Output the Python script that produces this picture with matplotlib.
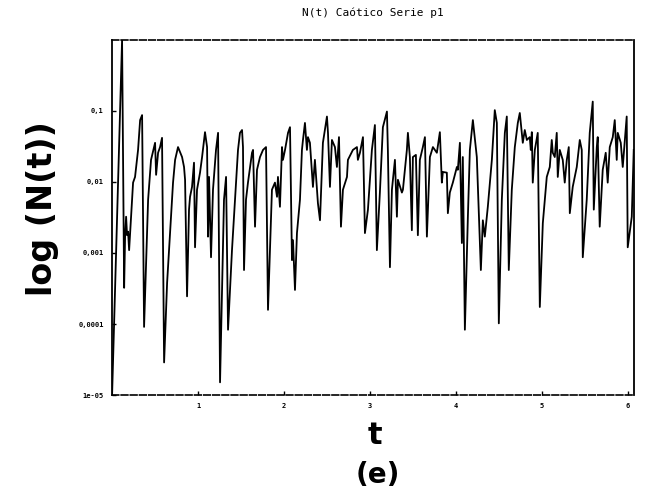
import numpy as np
import matplotlib
matplotlib.use('Agg')
import matplotlib.pyplot as plt
from matplotlib.ticker import FixedLocator, NullLocator

# tiempo
t = [0.000, 0.116, 0.140, 0.151, 0.163, 0.174, 0.186, 0.198, 0.221, 0.244,
     0.267, 0.302, 0.326, 0.349, 0.372, 0.395, 0.419, 0.453, 0.500, 0.512,
     0.535, 0.558, 0.581, 0.605, 0.640, 0.674, 0.709, 0.733, 0.767, 0.814,
     0.837, 0.849, 0.872, 0.895, 0.907, 0.930, 0.953, 0.965, 0.988, 1.023,
     1.047, 1.070, 1.081, 1.105, 1.116, 1.128, 1.151, 1.174, 1.209, 1.233,
     1.256, 1.279, 1.302, 1.326, 1.349, 1.395, 1.430, 1.465, 1.488, 1.512,
     1.523, 1.535, 1.558, 1.581, 1.628, 1.640, 1.663, 1.686, 1.721, 1.756,
     1.791, 1.814, 1.837, 1.860, 1.895, 1.919, 1.930, 1.953, 1.977, 1.988,
     2.012, 2.047, 2.070, 2.093, 2.105, 2.128, 2.151, 2.186, 2.209, 2.221,
     2.244, 2.267, 2.279, 2.302, 2.337, 2.360, 2.395, 2.419, 2.453, 2.500,
     2.512, 2.535, 2.558, 2.593, 2.616, 2.640, 2.663, 2.686, 2.733, 2.744,
     2.802, 2.849, 2.860, 2.884, 2.919, 2.942, 2.977, 3.023, 3.058, 3.081,
     3.116, 3.151, 3.198, 3.209, 3.233, 3.256, 3.291, 3.314, 3.326, 3.372,
     3.384, 3.430, 3.442, 3.465, 3.488, 3.500, 3.535, 3.558, 3.581, 3.616,
     3.640, 3.663, 3.698, 3.733, 3.779, 3.814, 3.837, 3.849, 3.895, 3.907,
     3.930, 3.965, 4.012, 4.023, 4.047, 4.070, 4.081, 4.105, 4.140, 4.163,
     4.198, 4.244, 4.267, 4.291, 4.314, 4.337, 4.372, 4.419, 4.453, 4.477,
     4.500, 4.535, 4.570, 4.593, 4.616, 4.651, 4.686, 4.721, 4.744, 4.779,
     4.802, 4.826, 4.860, 4.872, 4.884, 4.895, 4.919, 4.953, 4.977, 5.012,
     5.058, 5.093, 5.116, 5.128, 5.151, 5.174, 5.186, 5.209, 5.244, 5.267,
     5.291, 5.314, 5.326, 5.360, 5.407, 5.442, 5.465, 5.477, 5.523, 5.558,
     5.593, 5.605, 5.640, 5.651, 5.674, 5.709, 5.744, 5.767, 5.791, 5.826,
     5.849, 5.872, 5.884, 5.919, 5.942, 5.988, 6.000, 6.047, 6.070]

# log10 N(t)
logN = [-4.99, 0.00, -3.49, -2.77, -2.49, -2.75, -2.70, -2.96, -2.49, -2.01,
        -1.93, -1.55, -1.13, -1.06, -4.04, -3.17, -2.25, -1.69, -1.45, -1.90,
        -1.59, -1.51, -1.38, -4.54, -3.42, -2.72, -2.01, -1.69, -1.51, -1.65,
        -1.79, -1.97, -3.61, -2.39, -2.21, -2.07, -1.73, -2.92, -2.11, -1.87,
        -1.65, -1.41, -1.30, -1.51, -2.77, -1.93, -3.06, -2.11, -1.55, -1.31,
        -4.82, -3.52, -2.25, -1.93, -4.08, -2.96, -2.25, -1.55, -1.31, -1.27,
        -1.51, -3.24, -2.25, -2.01, -1.59, -1.55, -2.63, -1.83, -1.65, -1.55,
        -1.51, -3.80, -2.96, -2.11, -2.01, -2.21, -1.93, -2.35, -1.51, -1.69,
        -1.55, -1.31, -1.23, -3.10, -2.82, -3.52, -2.72, -2.25, -1.55, -1.41,
        -1.17, -1.55, -1.37, -1.45, -2.07, -1.69, -2.30, -2.54, -1.45, -1.08,
        -1.31, -2.07, -1.41, -1.51, -1.79, -1.37, -2.63, -2.11, -1.93, -1.69,
        -1.55, -1.51, -1.69, -1.59, -1.37, -2.72, -2.39, -1.55, -1.20, -2.96,
        -2.15, -1.23, -1.01, -1.55, -3.20, -2.11, -1.69, -2.49, -1.97, -2.15,
        -2.11, -1.55, -1.31, -1.65, -2.68, -1.65, -1.62, -2.75, -1.69, -1.51,
        -1.37, -2.77, -1.65, -1.51, -1.59, -1.30, -2.01, -1.86, -1.87, -2.44,
        -2.15, -2.01, -1.79, -1.83, -1.45, -2.86, -1.65, -4.08, -2.49, -1.55,
        -1.13, -1.65, -2.44, -3.24, -2.54, -2.77, -2.35, -1.69, -0.99, -1.17,
        -3.99, -2.25, -1.31, -1.08, -3.24, -2.11, -1.51, -1.17, -1.03, -1.45,
        -1.27, -1.41, -1.37, -1.55, -1.30, -2.01, -1.55, -1.31, -3.76, -2.58,
        -1.93, -1.79, -1.41, -1.59, -1.65, -1.31, -1.93, -1.55, -1.69, -2.01,
        -1.69, -1.51, -2.44, -2.07, -1.79, -1.41, -1.55, -3.06, -2.25, -1.31,
        -0.87, -2.39, -1.51, -1.37, -2.63, -1.83, -1.59, -2.01, -1.51, -1.37,
        -1.13, -1.69, -1.31, -1.45, -1.79, -1.08, -2.92, -2.49, -1.55]

yticks = [1e-5, 1e-4, 1e-3, 1e-2, 1e-1]
yticklabels = ['1e-05', '0,0001', '0,001', '0,01', '0,1']
xticks = [1, 2, 3, 4, 5, 6]
xticklabels = ['1', '2', '3', '4', '5', '6']

N = 10 ** np.array(logN)

fig = plt.figure(figsize=(6.48, 4.97), dpi=100)
ax = fig.add_axes([0.173, 0.205, 0.805, 0.715])
ax.plot(t, N, color='black', lw=1.3)
ax.set_yscale('log')
ax.set_xlim(0, 6.07)
ax.set_ylim(1e-5, 1)

ax.yaxis.set_major_locator(FixedLocator(yticks))
ax.yaxis.set_minor_locator(NullLocator())
ax.set_yticklabels(yticklabels, fontsize=5, family='DejaVu Sans Mono', fontweight='bold')
ax.set_xticks(xticks)
ax.set_xticklabels(xticklabels, fontsize=5, family='DejaVu Sans Mono', fontweight='bold')
ax.tick_params(axis='both', length=3, width=1, direction='in', pad=6)

for s in ['top', 'bottom']:
    ax.spines[s].set_linestyle((0, (4, 1.5)))
    ax.spines[s].set_linewidth(1.2)
for s in ['left', 'right']:
    ax.spines[s].set_linewidth(1.3)

fig.text(0.576, 0.974, 'N(t) Caótico Serie p1', ha='center', va='center',
         fontsize=8, family='DejaVu Sans Mono')
fig.text(0.065, 0.58, 'log (N(t))', rotation=90, ha='center', va='center',
         fontsize=24, fontweight='bold')
fig.text(0.579, 0.123, 't', ha='center', va='center', fontsize=22, fontweight='bold')
fig.text(0.583, 0.044, '(e)', ha='center', va='center', fontsize=20, fontweight='bold')

fig.savefig('out.png', dpi=100)
